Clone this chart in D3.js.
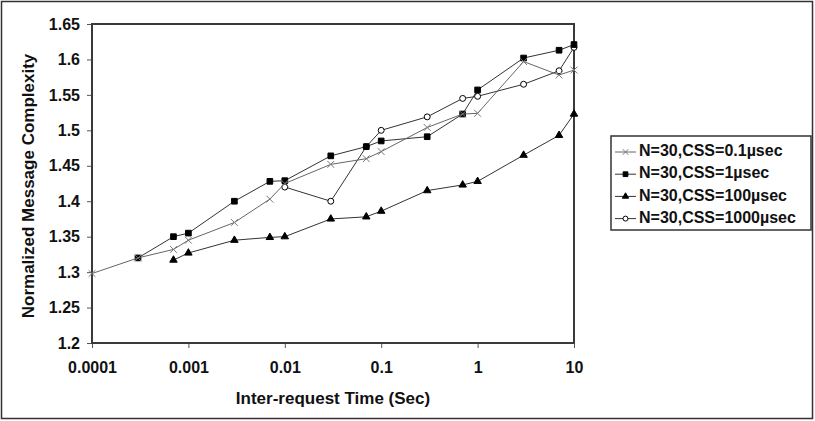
<!DOCTYPE html>
<html>
<head>
<meta charset="utf-8">
<script src="https://cdn.jsdelivr.net/npm/d3@7"></script>
<style>
  body { margin: 0; background: #fff; }
  svg text { font-family: "Liberation Sans", Arial, sans-serif; font-weight: bold; fill: #111; }
</style>
</head>
<body>
<svg id="chart" width="815" height="421"></svg>
<script>
// inter-request times (sec)
var times = [0.0001, 0.0003, 0.0007, 0.001, 0.003, 0.007, 0.01, 0.03, 0.07, 0.1, 0.3, 0.7, 1, 3, 7, 10];

// normalized message complexity (null = no point)
var css01   = [1.298, 1.32, 1.332, 1.345, 1.37, 1.403, 1.425, 1.452, 1.46, 1.47, 1.504, 1.523, 1.524, 1.597, 1.578, 1.585];
var css1    = [null, 1.32, 1.35, 1.355, 1.40, 1.428, 1.429, 1.464, 1.477, 1.485, 1.491, 1.523, 1.557, 1.602, 1.613, 1.621];
var css100  = [null, null, 1.317, 1.327, 1.345, 1.349, 1.350, 1.375, 1.378, 1.386, 1.415, 1.423, 1.428, 1.465, 1.493, 1.523];
var css1000 = [null, null, null, null, null, null, 1.42, 1.40, 1.477, 1.50, 1.519, 1.545, 1.548, 1.565, 1.584, 1.617];

var seriesNames = ["N=30,CSS=0.1\u00b5sec", "N=30,CSS=1\u00b5sec", "N=30,CSS=100\u00b5sec", "N=30,CSS=1000\u00b5sec"];

var xTicks = [0.0001, 0.001, 0.01, 0.1, 1, 10];
var xTickLabels = ["0.0001", "0.001", "0.01", "0.1", "1", "10"];
var yTicks = [1.2, 1.25, 1.3, 1.35, 1.4, 1.45, 1.5, 1.55, 1.6, 1.65];
var yTickLabels = ["1.2", "1.25", "1.3", "1.35", "1.4", "1.45", "1.5", "1.55", "1.6", "1.65"];

var svg = d3.select("#chart");
var plot = { left: 92, right: 574, top: 24, bottom: 343 };

// outer frame
svg.append("rect")
    .attr("x", 1.5).attr("y", 1.5).attr("width", 811).attr("height", 417)
    .attr("fill", "none").attr("stroke", "#333").attr("stroke-width", 1.5);

var x = d3.scaleLog().domain([0.0001, 10]).range([plot.left, plot.right]);
var y = d3.scaleLinear().domain([1.2, 1.65]).range([plot.bottom, plot.top]);

var xAxis = d3.axisBottom(x)
    .tickValues(xTicks)
    .tickFormat(function(d, i) { return xTickLabels[i]; })
    .tickSize(5).tickSizeOuter(0).tickPadding(14);
var yAxis = d3.axisLeft(y)
    .tickValues(yTicks)
    .tickFormat(function(d, i) { return yTickLabels[i]; })
    .tickSize(5).tickSizeOuter(0).tickPadding(7);

var gx = svg.append("g").attr("transform", "translate(0," + plot.bottom + ")").call(xAxis);
var gy = svg.append("g").attr("transform", "translate(" + plot.left + ",0)").call(yAxis);
[gx, gy].forEach(function(g) {
    g.select(".domain").remove();
    g.selectAll(".tick line").attr("stroke", "#555");
    g.selectAll(".tick text").attr("font-size", 16).attr("fill", "#111")
        .style("font-family", "'Liberation Sans', Arial, sans-serif").style("font-weight", "bold");
});

// plot area border
svg.append("rect")
    .attr("x", plot.left).attr("y", plot.top)
    .attr("width", plot.right - plot.left).attr("height", plot.bottom - plot.top)
    .attr("fill", "none").attr("stroke", "#3a3a3a").attr("stroke-width", 2);

// axis titles
svg.append("text")
    .attr("x", 333).attr("y", 400)
    .attr("text-anchor", "middle").attr("dominant-baseline", "middle")
    .attr("font-size", 17)
    .text("Inter-request Time (Sec)");
svg.append("text")
    .attr("transform", "translate(30,186) rotate(-90)")
    .attr("text-anchor", "middle").attr("dominant-baseline", "middle")
    .attr("font-size", 17)
    .text("Normalized Message Complexity");

// series styling
var styles = [
    { values: css01,   symbol: d3.symbolTimes,    size: 32, fill: "none", stroke: "#777" },
    { values: css1,    symbol: d3.symbolSquare,   size: 32, fill: "#000", stroke: "#000" },
    { values: css100,  symbol: d3.symbolTriangle, size: 24, fill: "#000", stroke: "#000" },
    { values: css1000, symbol: d3.symbolCircle,   size: 28, fill: "#fff", stroke: "#000" }
];

var line = d3.line()
    .x(function(d) { return x(d.t); })
    .y(function(d) { return y(d.v); });

var drawOrder = [3, 2, 1, 0];
drawOrder.forEach(function(si) {
    var s = styles[si];
    var pts = times.map(function(t, i) { return { t: t, v: s.values[i] }; })
        .filter(function(d) { return d.v != null; });
    var g = svg.append("g").attr("class", "series");
    g.append("path")
        .datum(pts)
        .attr("d", line)
        .attr("fill", "none")
        .attr("stroke", si == 0 ? "#666" : "#333")
        .attr("stroke-width", 1);
    g.selectAll("path.pt")
        .data(pts)
        .enter().append("path")
        .attr("class", "pt")
        .attr("d", d3.symbol().type(s.symbol).size(s.size))
        .attr("transform", function(d) { return "translate(" + x(d.t) + "," + y(d.v) + ")"; })
        .attr("fill", s.fill)
        .attr("stroke", s.stroke)
        .attr("stroke-width", 1);
});

// legend
var legend = svg.append("g");
legend.append("rect")
    .attr("x", 611).attr("y", 136).attr("width", 200).attr("height", 94)
    .attr("fill", "#fff").attr("stroke", "#333").attr("stroke-width", 1.5);

seriesNames.forEach(function(name, i) {
    var s = styles[i];
    var ly = 152 + i * 22.2;
    legend.append("line")
        .attr("x1", 615).attr("x2", 636).attr("y1", ly).attr("y2", ly)
        .attr("stroke", i == 0 ? "#666" : "#333").attr("stroke-width", 1);
    legend.append("path")
        .attr("d", d3.symbol().type(s.symbol).size(s.size * 0.7))
        .attr("transform", "translate(625.5," + ly + ")")
        .attr("fill", s.fill).attr("stroke", s.stroke).attr("stroke-width", 1);
    legend.append("text")
        .attr("x", 639).attr("y", ly)
        .attr("dominant-baseline", "middle")
        .attr("font-size", 16)
        .text(name);
});
</script>
</body>
</html>
